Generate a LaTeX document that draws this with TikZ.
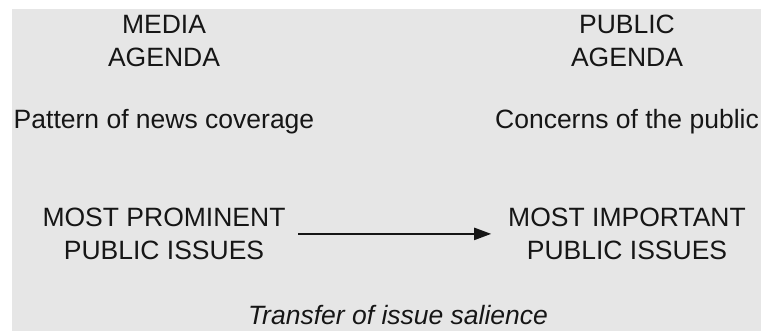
\documentclass[tikz,border=0pt]{standalone}
\usepackage{fontspec}
\setmainfont{Liberation Sans}
\usetikzlibrary{arrows.meta}
\definecolor{bg}{HTML}{E6E6E6}
\definecolor{ink}{HTML}{161616}
\begin{document}
\begin{tikzpicture}[x=1pt,y=-1pt,
  lbl/.style={inner sep=0pt,outer sep=0pt,text=ink,align=center,font=\fontsize{26.5}{33}\selectfont},
  arr/.style={draw=ink,line width=2.2pt,-{Triangle[length=17pt,width=12pt]}}]
\useasboundingbox (0,0) rectangle (761,331);
\fill[bg] (12,9) rectangle (761,331);
\node[lbl,anchor=north] (ma) at (164,15) {MEDIA\\AGENDA};
\node[lbl,anchor=north] (pa) at (627,15) {PUBLIC\\AGENDA};
\node[lbl,anchor=base] (pn) at (164,128.5) {Pattern of news coverage};
\node[lbl,anchor=base] (cp) at (627,128.5) {Concerns of the public};
\node[lbl,anchor=north] (mp) at (164,208) {MOST PROMINENT\\PUBLIC ISSUES};
\node[lbl,anchor=north] (mi) at (627,208) {MOST IMPORTANT\\PUBLIC ISSUES};
\node[lbl,anchor=base,font=\fontsize{26.5}{33}\selectfont\itshape] (tr) at (398,325) {Transfer of issue salience};
\draw[arr,shorten <=13pt,shorten >=17pt] (mp.east) -- (mi.west);
\end{tikzpicture}
\end{document}
